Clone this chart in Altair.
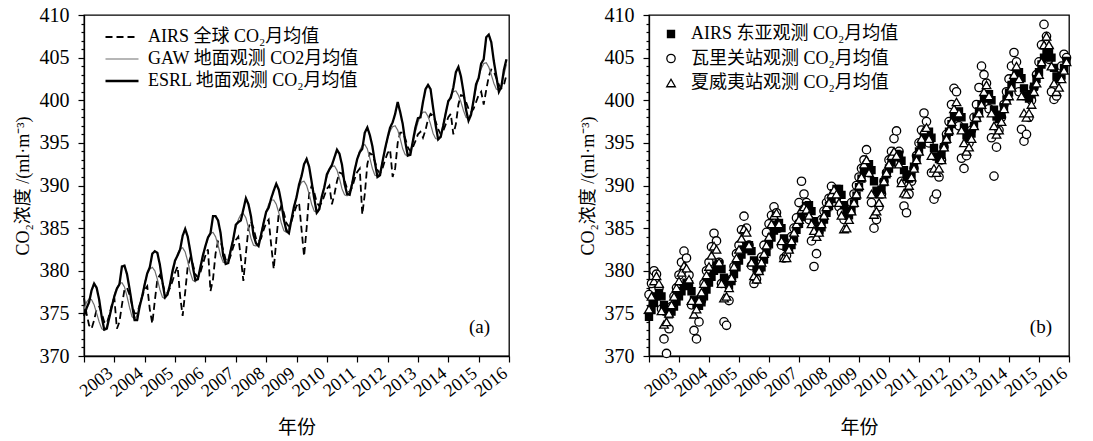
import altair as alt
import pandas as pd

FONT = "Liberation Serif, Noto Sans CJK SC"

YEARS = list(range(2003, 2017))
X_TICKS = list(range(2003, 2018))
Y_TICKS = list(range(370, 411))

SERIES_A = ["AIRS 全球 CO₂月均值", "GAW 地面观测 CO2月均值", "ESRL 地面观测 CO₂月均值"]
SERIES_B = ["AIRS 东亚观测 CO₂月均值", "瓦里关站观测 CO₂月均值", "夏威夷站观测 CO₂月均值"]
Y_TITLE = "CO₂浓度 /(ml·m⁻³)"
X_TITLE = "年份"

# ---- panel (a): monthly means, Jan..Dec per row (2003-2016) ----
airs_global = [
    376.8, 375.0, 373.6, 373.2, 374.2, 375.5, 375.8, 375.0, 374.0, 373.8, 374.8, 376.0,
    376.8, 373.2, 374.0, 376.0, 377.8, 378.0, 377.2, 376.0, 375.0, 375.0, 376.0, 377.0,
    377.8, 378.2, 375.5, 373.8, 376.5, 379.0, 379.5, 378.6, 377.5, 377.4, 378.0, 378.8,
    379.8, 380.5, 377.0, 374.7, 377.5, 380.5, 381.5, 380.8, 379.6, 379.2, 379.8, 380.8,
    381.8, 382.5, 377.6, 379.0, 382.0, 383.5, 383.4, 382.5, 381.3, 381.0, 381.8, 382.8,
    383.6, 384.0, 381.5, 378.8, 382.0, 385.0, 385.8, 385.0, 383.8, 383.4, 383.8, 384.8,
    385.6, 386.0, 383.0, 380.2, 383.5, 386.8, 387.6, 386.8, 385.6, 385.2, 385.8, 386.8,
    387.6, 388.0, 384.8, 381.7, 385.0, 389.0, 390.0, 389.2, 388.0, 387.6, 388.0, 388.8,
    389.6, 390.0, 387.8, 389.0, 390.5, 391.5, 391.4, 390.6, 389.6, 389.2, 389.8, 390.8,
    391.6, 392.0, 386.6, 389.0, 392.5, 393.8, 393.6, 392.8, 391.8, 391.4, 392.0, 393.0,
    393.8, 394.2, 391.0, 392.0, 395.0, 396.2, 396.2, 395.5, 394.5, 394.0, 394.5, 395.2,
    396.0, 396.3, 395.6, 396.5, 397.8, 398.4, 398.2, 397.5, 396.6, 396.0, 396.4, 397.2,
    398.0, 398.4, 396.0, 397.2, 399.5, 400.6, 400.5, 399.8, 399.0, 398.6, 399.0, 399.8,
    400.6, 401.0, 399.5, 401.2, 402.8, 403.6, 403.4, 402.6, 401.8, 401.4, 401.8, 403.0,
]
gaw = [
    375.5, 376.3, 376.7, 376.6, 376.0, 375.0, 374.0, 373.2, 373.0, 373.5, 374.6, 375.8,
    377.2, 378.0, 378.5, 378.6, 378.1, 377.0, 375.7, 374.6, 374.3, 374.8, 375.9, 377.1,
    378.6, 379.6, 380.2, 380.4, 380.0, 379.0, 377.8, 376.9, 376.7, 377.2, 378.3, 379.6,
    381.0, 382.0, 382.6, 382.7, 382.2, 381.1, 379.8, 378.9, 378.7, 379.1, 380.3, 381.6,
    382.9, 383.8, 384.4, 384.5, 384.0, 383.0, 381.8, 381.0, 380.9, 381.4, 382.5, 383.8,
    385.0, 386.0, 386.6, 386.7, 386.2, 385.1, 383.8, 383.0, 382.9, 383.3, 384.4, 385.7,
    386.9, 387.8, 388.3, 388.3, 387.8, 386.8, 385.6, 384.7, 384.5, 385.0, 386.1, 387.4,
    388.8, 389.8, 390.4, 390.5, 390.0, 389.0, 387.8, 387.0, 386.9, 387.4, 388.6, 389.9,
    391.0, 391.8, 392.2, 392.3, 391.8, 390.8, 389.6, 388.9, 388.8, 389.3, 390.4, 391.8,
    393.1, 394.1, 394.7, 394.8, 394.3, 393.2, 392.0, 391.2, 391.1, 391.6, 392.8, 394.2,
    395.5, 396.4, 396.9, 397.0, 396.5, 395.5, 394.3, 393.6, 393.5, 394.0, 395.1, 396.3,
    397.4, 398.2, 398.6, 398.6, 398.1, 397.2, 396.1, 395.5, 395.4, 395.9, 397.2, 398.6,
    399.8, 400.6, 401.0, 401.1, 400.6, 399.8, 398.8, 398.0, 397.9, 398.5, 399.9, 401.4,
    402.7, 403.7, 404.3, 404.4, 403.9, 403.0, 402.0, 401.3, 401.2, 401.8, 403.0, 404.2,
]
esrl = [
    374.7, 375.6, 376.3, 377.7, 378.5, 378.0, 376.6, 374.6, 373.1, 373.2, 374.5, 375.8,
    377.0, 377.9, 378.4, 380.5, 380.6, 379.6, 377.9, 376.0, 374.2, 374.2, 375.8, 377.0,
    378.4, 379.7, 380.4, 382.0, 382.3, 382.1, 380.7, 378.7, 376.9, 377.2, 378.4, 380.0,
    381.2, 381.8, 382.5, 384.1, 384.9, 384.0, 382.3, 380.5, 378.9, 379.0, 380.4, 381.8,
    382.9, 383.9, 384.4, 386.4, 386.4, 385.9, 384.4, 381.8, 380.8, 380.9, 382.4, 383.7,
    385.4, 385.7, 385.9, 387.2, 388.5, 387.8, 386.4, 384.2, 383.2, 382.9, 384.2, 385.6,
    386.9, 387.4, 388.5, 389.4, 390.2, 389.5, 388.0, 386.0, 384.7, 384.4, 386.0, 387.5,
    388.6, 390.1, 391.1, 392.5, 393.1, 392.2, 390.4, 388.5, 386.8, 387.2, 388.7, 389.8,
    391.3, 391.9, 392.4, 393.3, 394.2, 393.7, 392.4, 390.2, 389.0, 388.9, 390.2, 391.8,
    393.1, 393.9, 394.3, 396.2, 396.8, 395.9, 394.6, 392.7, 391.0, 391.2, 392.8, 394.3,
    395.6, 396.8, 397.4, 398.4, 399.8, 398.6, 397.2, 395.1, 393.5, 393.6, 395.2, 396.8,
    397.9, 398.0, 399.8, 401.3, 401.8, 401.3, 399.1, 397.1, 395.4, 395.7, 397.0, 398.5,
    399.9, 400.3, 401.5, 403.3, 403.9, 402.8, 401.0, 398.9, 397.6, 398.3, 400.0, 401.9,
    402.6, 404.3, 404.8, 407.4, 407.7, 406.8, 404.6, 402.8, 401.0, 401.6, 403.6, 404.8,
]

# ---- panel (b): monthly means, Jan..Dec per row (2003-2016) ----
airs_east_asia = [
    374.6, 375.4, 376.2, 377.0, 377.4, 377.0, 376.0, 375.2, 374.9, 375.2, 375.8, 376.4,
    377.0, 377.6, 378.2, 378.6, 378.4, 377.6, 376.6, 376.0, 375.9, 376.3, 377.0, 377.8,
    378.6, 379.3, 380.0, 380.6, 380.8, 380.2, 379.2, 378.5, 378.3, 378.8, 379.6, 380.4,
    381.2, 381.9, 382.5, 383.0, 383.0, 382.3, 381.2, 380.3, 380.0, 380.4, 381.3, 382.2,
    383.1, 383.9, 384.7, 385.4, 385.6, 385.0, 383.8, 382.8, 382.5, 383.0, 383.8, 384.8,
    385.5, 386.3, 387.0, 387.6, 387.7, 387.0, 385.8, 384.9, 384.6, 385.1, 386.0, 386.8,
    387.6, 388.4, 389.1, 389.6, 389.6, 388.9, 387.7, 386.8, 386.5, 387.0, 387.9, 388.8,
    389.8, 390.8, 391.6, 392.3, 392.5, 391.8, 390.5, 389.4, 389.0, 389.5, 390.4, 391.3,
    392.0, 392.7, 393.3, 393.7, 393.6, 392.9, 391.8, 391.0, 390.8, 391.3, 392.2, 393.2,
    394.0, 394.8, 395.6, 396.2, 396.3, 395.6, 394.4, 393.4, 393.1, 393.6, 394.5, 395.4,
    396.3, 397.2, 398.0, 398.6, 398.7, 398.0, 396.8, 395.9, 395.6, 396.1, 397.0, 397.9,
    398.7, 399.5, 400.2, 400.7, 400.7, 400.0, 398.9, 398.1, 397.8, 398.3, 399.2, 400.1,
    400.9, 401.8, 402.6, 403.2, 403.3, 402.6, 401.4, 400.5, 400.2, 400.7, 401.6, 402.5,
    403.3, 404.2, 405.0, 405.6, 405.8, 405.0, 403.8, 402.8, 402.5, 402.9, 403.8, 404.6,
]
waliguan = [
    377.2, 378.5, 380.0, 379.6, 378.0, 375.5, 372.0, 370.3, 373.2, 375.8, 377.0, 378.0,
    379.5, 381.0, 382.3, 381.5, 379.5, 376.0, 373.0, 372.0, 374.0, 376.5, 378.5, 380.0,
    381.0, 382.8, 384.4, 383.5, 381.0, 378.5, 374.0, 373.6, 376.5, 379.0, 380.5, 382.0,
    383.0, 384.8, 386.4, 385.0, 383.0, 380.6, 378.5, 379.0, 380.0, 381.6, 383.0, 384.5,
    385.5, 386.5, 387.5, 386.8, 385.0, 383.0, 381.5, 381.8, 383.0, 384.0, 385.0, 386.2,
    388.0, 390.5, 389.0, 388.0, 386.0, 383.5, 380.5, 382.0, 384.5, 386.0, 387.0, 388.0,
    388.5, 389.9, 389.0, 388.5, 387.5, 386.8, 386.0, 386.5, 387.0, 388.0, 389.0, 390.0,
    391.0, 392.0, 393.0, 394.2, 391.5, 388.0, 385.0, 386.0, 387.5, 389.0, 390.5, 391.5,
    393.0, 394.0, 395.5, 396.4, 394.0, 390.5, 387.6, 386.8, 389.0, 390.5, 392.0, 393.5,
    395.0, 396.5, 398.5, 397.5, 395.0, 391.5, 388.4, 389.0, 391.0, 393.0, 394.5, 396.0,
    397.5, 399.5, 401.4, 401.0, 397.0, 393.2, 392.0, 393.5, 395.0, 396.5, 398.0, 399.5,
    401.5, 404.0, 403.0, 402.0, 399.0, 395.6, 391.1, 394.5, 396.5, 398.0, 399.5, 401.0,
    402.5, 404.0, 405.6, 404.5, 401.0, 396.6, 395.2, 396.0, 398.0, 400.0, 401.5, 403.0,
    404.5, 406.5, 408.9, 407.5, 404.8, 401.0, 400.1, 400.5, 402.5, 404.0, 405.4, 405.0,
]
mauna_loa = [
    375.5, 377.0, 378.8, 379.4, 378.5, 375.3, 373.7, 374.0, 375.0, 376.0, 377.0, 378.0,
    378.8, 379.8, 380.6, 380.3, 379.0, 376.5, 374.9, 375.5, 376.5, 377.5, 378.5, 379.5,
    380.5, 381.8, 382.9, 382.5, 381.0, 378.5, 376.8, 377.0, 378.0, 379.2, 380.5, 381.5,
    382.5, 383.8, 384.9, 384.5, 383.0, 381.0, 379.4, 379.0, 380.0, 381.0, 382.0, 383.0,
    384.0, 385.5, 386.5, 386.8, 385.5, 383.5, 381.5, 381.5, 382.5, 383.5, 384.5, 385.5,
    386.0, 387.2, 387.5, 387.2, 386.5, 385.5, 384.7, 384.0, 384.5, 385.5, 386.5, 387.5,
    388.0, 389.0, 389.5, 389.0, 388.0, 386.5, 384.9, 385.0, 386.0, 387.0, 388.0, 389.0,
    390.0, 391.0, 392.5, 393.0, 391.5, 389.0, 386.6, 387.0, 388.0, 389.0, 390.5, 391.5,
    392.5, 393.5, 394.0, 393.5, 392.5, 390.3, 389.1, 389.0, 390.0, 391.0, 392.0, 393.0,
    394.0, 395.5, 396.5, 396.8, 395.5, 393.5, 392.0, 391.5, 392.0, 393.0, 394.5, 395.5,
    396.5, 397.5, 399.0, 399.8, 398.5, 396.5, 395.0, 394.0, 394.5, 395.5, 397.0, 398.0,
    398.5, 399.5, 401.0, 401.8, 400.5, 398.5, 397.0, 396.0, 396.5, 397.5, 399.0, 400.0,
    400.5, 401.5, 403.0, 404.0, 402.5, 400.5, 398.5, 398.0, 398.5, 399.5, 401.0, 402.0,
    403.0, 404.5, 406.5, 407.5, 406.5, 404.0, 402.0, 401.0, 401.5, 402.5, 403.5, 404.5,
]

MONTH_T = [y + m / 12 for y in YEARS for m in range(12)]


def long_frame(names, seriess, key):
    rows = []
    for name, vals in zip(names, seriess):
        for t, v in zip(MONTH_T, vals):
            rows.append({"t": t, "v": v, key: name})
    return pd.DataFrame(rows)


df_a = long_frame(SERIES_A, [airs_global, gaw, esrl], "sa")
df_b = long_frame([SERIES_B[1], SERIES_B[0], SERIES_B[2]],
                  [waliguan, airs_east_asia, mauna_loa], "sb")


def x_axis():
    # each year's label ends just at the tick that closes that year
    return alt.Axis(
        values=X_TICKS, format="d",
        labelExpr="datum.value > 2003 ? '' + (datum.value - 1) : ''",
        labelAngle=322, labelAlign="right", labelBaseline="middle",
        labelOffset=-4, labelPadding=9, labelFlush=False, labelOverlap=False,
        labelFontSize=18, tickSize=6, grid=False,
        title=X_TITLE, titleFontSize=19, titlePadding=18,
    )


def y_axis():
    return alt.Axis(
        values=Y_TICKS, format="d",
        labelExpr="datum.value % 5 == 0 ? datum.label : ''",
        tickSize={"condition": {"test": "datum.value % 5 == 0", "value": 6}, "value": 3},
        labelPadding=9, labelOverlap=False, labelFontSize=20, grid=False,
        title=Y_TITLE, titleFontSize=18, titlePadding=7,
    )


xs = alt.Scale(domain=[2003, 2017], nice=False, zero=False)
ys = alt.Scale(domain=[370, 410], nice=False, zero=False)

leg_a = alt.Legend(
    title=None, orient="none", legendX=29, legendY=13, padding=0,
    symbolType="M-3,0L3,0", symbolSize=121, labelFont=FONT, labelFontSize=18,
    labelOffset=17, rowPadding=4, labelLimit=500,
)
lines = alt.Chart(df_a).mark_line().encode(
    x=alt.X("t:Q", scale=xs, axis=x_axis()),
    y=alt.Y("v:Q", scale=ys, axis=y_axis()),
    color=alt.Color("sa:N", scale=alt.Scale(domain=SERIES_A, range=["black", "#6e6e6e", "black"]), legend=leg_a),
    strokeDash=alt.StrokeDash("sa:N", scale=alt.Scale(domain=SERIES_A, range=[[7, 4], [1, 0], [1, 0]]), legend=leg_a),
    strokeWidth=alt.StrokeWidth("sa:N", scale=alt.Scale(type="ordinal", domain=SERIES_A, range=[1.8, 1.2, 2.3]), legend=leg_a),
    detail="sa:N",
)
tag_a = alt.Chart(pd.DataFrame({"lab": ["(a)"]})).mark_text(
    font=FONT, fontSize=19, align="right", baseline="middle", color="black"
).encode(x=alt.value(406), y=alt.value(312), text="lab:N")
left = alt.layer(lines, tag_a).properties(width=425, height=341)

leg_b = alt.Legend(
    title=None, orient="none", legendX=13, legendY=10, padding=0,
    labelFont=FONT, labelFontSize=18, labelOffset=11, rowPadding=6.5, labelLimit=500,
    symbolStrokeColor="black", symbolStrokeWidth=1.3,
)
points = alt.Chart(df_b).mark_point(filled=False, strokeWidth=1.3, opacity=1).encode(
    x=alt.X("t:Q", scale=xs, axis=x_axis()),
    y=alt.Y("v:Q", scale=ys, axis=y_axis()),
    shape=alt.Shape("sb:N", scale=alt.Scale(domain=SERIES_B, range=["square", "circle", "triangle-up"]), legend=leg_b),
    fill=alt.Fill("sb:N", scale=alt.Scale(domain=SERIES_B, range=["black", "white", "white"]), legend=leg_b),
    stroke=alt.Stroke("sb:N", scale=alt.Scale(domain=SERIES_B, range=["black", "black", "black"]), legend=leg_b),
    size=alt.Size("sb:N", scale=alt.Scale(type="ordinal", domain=SERIES_B, range=[50, 70, 75]), legend=leg_b),
)
tag_b = alt.Chart(pd.DataFrame({"lab": ["(b)"]})).mark_text(
    font=FONT, fontSize=19, align="right", baseline="middle", color="black"
).encode(x=alt.value(403), y=alt.value(312), text="lab:N")
right = alt.layer(points, tag_b).properties(width=420, height=341)

chart = (
    alt.hconcat(left, right, spacing=66)
    .resolve_scale(color="independent", strokeDash="independent", strokeWidth="independent",
                   shape="independent", fill="independent", stroke="independent", size="independent")
    .properties(padding={"left": 13, "top": 4, "right": 0, "bottom": 0}, background="white")
    .configure_view(stroke="black", strokeWidth=1.3)
    .configure_axis(
        domainColor="black", tickColor="black", labelColor="black", titleColor="black",
        domainWidth=1.3, tickWidth=1.2, labelFont=FONT, titleFont=FONT,
        titleFontWeight="normal",
    )
    .configure_legend(labelColor="black")
)

chart.save("out.html", embed_options={"renderer": "svg", "actions": False})
